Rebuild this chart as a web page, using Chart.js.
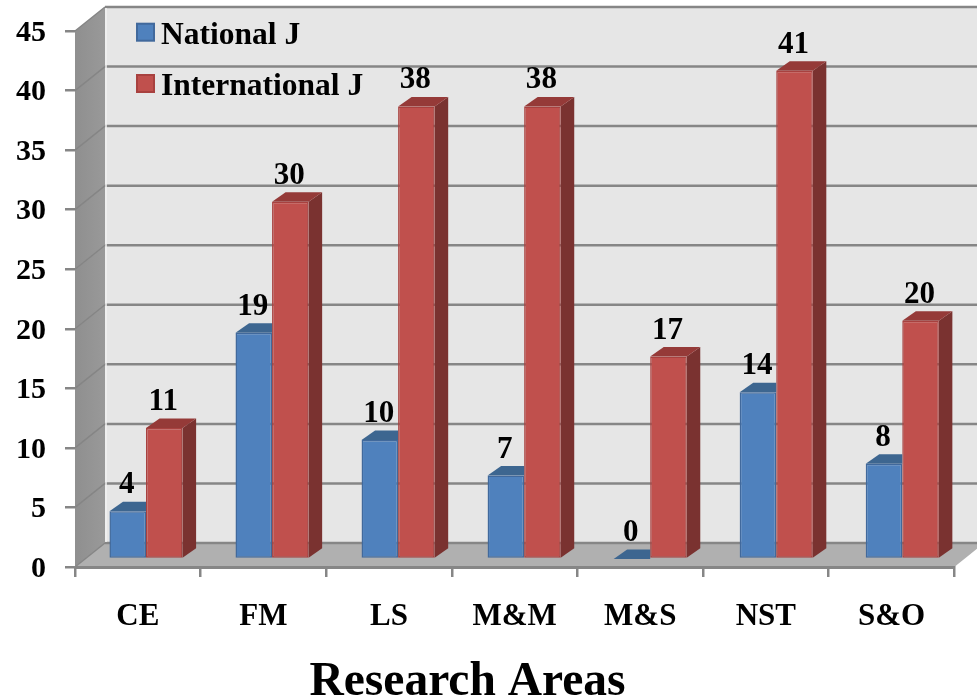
<!DOCTYPE html>
<html>
<head>
<meta charset="utf-8">
<style>
  html, body { margin: 0; padding: 0; background: #fff; }
  canvas { display: block; }
</style>
<script src="https://cdn.jsdelivr.net/npm/chart.js@4/dist/chart.umd.js"></script>
</head>
<body>
<canvas id="chart" width="977" height="698"></canvas>
<script>
const categories = ['CE', 'FM', 'LS', 'M&M', 'M&S', 'NST', 'S&O'];
const nationalJ = [4, 19, 10, 7, 0, 14, 8];
const internationalJ = [11, 30, 38, 38, 17, 41, 20];
const xAxisTitle = 'Research Areas';

const serif = '"Liberation Serif", "Times New Roman", serif';
const axisGray = '#868686';

// depth of the box behind the front plane
const wallDx = 30, wallDy = 24;
// bars stand part of the way in, and are a little wider spaced than the ticks
const barDy = 8, barScaleX = 1.0034, barDx = 7.73;
const sideDx = 13.5, sideDy = 9.5;

// blue has no side: the red bar next to it hides that part
const faces = [
  { top: '#3d6690', side: null },
  { top: '#953a38', side: '#7a3230' }
];

function poly(ctx, pts, color) {
  ctx.fillStyle = color;
  ctx.beginPath();
  pts.forEach((p, i) => i ? ctx.lineTo(p[0], p[1]) : ctx.moveTo(p[0], p[1]));
  ctx.closePath();
  ctx.fill();
}

function toBarSpace(ctx) {
  ctx.translate(barDx, -barDy);
  ctx.scale(barScaleX, 1);
}

const box3d = {
  id: 'box3d',
  beforeDraw(chart) {
    const { ctx, scales: { x, y } } = chart;
    const y0 = y.getPixelForValue(0), yTop = y.getPixelForValue(45);
    ctx.save();
    // back wall
    poly(ctx, [[x.left + wallDx, yTop - wallDy], [x.right + wallDx, yTop - wallDy],
      [x.right + wallDx, y0 - wallDy], [x.left + wallDx, y0 - wallDy]], '#e6e6e6');
    // left wall
    const g = ctx.createLinearGradient(x.left, 0, x.left + wallDx, 0);
    g.addColorStop(0, '#8f8f8f');
    g.addColorStop(1, '#999999');
    poly(ctx, [[x.left, yTop], [x.left + wallDx, yTop - wallDy],
      [x.left + wallDx, y0 - wallDy], [x.left, y0]], g);
    // floor
    poly(ctx, [[x.left, y0], [x.left + wallDx, y0 - wallDy],
      [x.right + wallDx, y0 - wallDy], [x.right, y0]], '#b0b0b0');
    // grid lines, back wall and down the left wall
    y.ticks.forEach(t => {
      const py = y.getPixelForValue(t.value);
      ctx.strokeStyle = axisGray;
      ctx.lineWidth = 2.5;
      ctx.beginPath();
      ctx.moveTo(x.left + wallDx, py - wallDy);
      ctx.lineTo(x.right + wallDx, py - wallDy);
      ctx.stroke();
      ctx.strokeStyle = '#858585';
      ctx.lineWidth = 1.5;
      ctx.beginPath();
      ctx.moveTo(x.left, py);
      ctx.lineTo(x.left + wallDx, py - wallDy);
      ctx.stroke();
    });
    // light edge where the walls meet
    ctx.strokeStyle = '#f2f2f2';
    ctx.lineWidth = 1.5;
    ctx.beginPath();
    ctx.moveTo(x.left + wallDx + 1, yTop - wallDy + 1);
    ctx.lineTo(x.left + wallDx + 1, y0 - wallDy - 1);
    ctx.stroke();
    ctx.restore();
  },
  beforeDatasetDraw(chart, args) {
    const { ctx } = chart;
    ctx.save();
    toBarSpace(ctx);
    const face = faces[args.index];
    args.meta.data.forEach(el => {
      const r = el.x + el.width / 2, l = el.x - el.width / 2;
      if (face.side) {
        poly(ctx, [[r, el.y], [r + sideDx, el.y - sideDy], [r + sideDx, el.base - sideDy], [r, el.base]], face.side);
        poly(ctx, [[l, el.y], [l + sideDx, el.y - sideDy], [r + sideDx, el.y - sideDy], [r, el.y]], face.top);
      } else {
        poly(ctx, [[l, el.y], [l + sideDx, el.y - sideDy], [r, el.y - sideDy], [r, el.y]], face.top);
      }
    });
  },
  afterDatasetDraw(chart) {
    chart.ctx.restore();
  },
  afterDatasetsDraw(chart) {
    const { ctx } = chart;
    ctx.save();
    toBarSpace(ctx);
    ctx.font = 'bold 31px ' + serif;
    ctx.fillStyle = '#000';
    ctx.textAlign = 'center';
    ctx.textBaseline = 'alphabetic';
    chart.data.datasets.forEach((ds, i) => {
      chart.getDatasetMeta(i).data.forEach((el, j) => {
        ctx.fillText(String(ds.data[j]), el.x - 1, el.y - 18);
      });
    });
    ctx.restore();

    // legend sits inside the plot
    const rows = [[23.7, 43.5], [75, 94.5]];
    ctx.save();
    ctx.font = 'bold 31.5px ' + serif;
    ctx.textAlign = 'left';
    chart.data.datasets.forEach((ds, i) => {
      ctx.fillStyle = ds.backgroundColor;
      ctx.strokeStyle = ds.borderColor;
      ctx.lineWidth = 2;
      ctx.fillRect(137, rows[i][0], 17, 17);
      ctx.strokeRect(137, rows[i][0], 17, 17);
      ctx.fillStyle = '#000';
      ctx.fillText(ds.label, 161, rows[i][1]);
    });
    // axis title is left of the plot centre in the original
    ctx.font = 'bold 47.5px ' + serif;
    ctx.textAlign = 'center';
    ctx.fillText(xAxisTitle, 467.5, 695);
    ctx.restore();
  }
};

new Chart(document.getElementById('chart'), {
  type: 'bar',
  data: {
    labels: categories,
    datasets: [
      {
        label: 'National J',
        data: nationalJ,
        backgroundColor: '#4f81bd',
        borderColor: '#41699c'
      },
      {
        label: 'International J',
        data: internationalJ,
        backgroundColor: '#c0504d',
        borderColor: '#a8413f'
      }
    ]
  },
  options: {
    responsive: false,
    animation: false,
    devicePixelRatio: 1,
    layout: {
      autoPadding: false,
      padding: { top: 31, right: 22.7, bottom: 0, left: 0 }
    },
    datasets: {
      bar: {
        barPercentage: 1,
        categoryPercentage: 0.58,
        borderWidth: 1.5,
        borderSkipped: false,
        clip: false
      }
    },
    scales: {
      x: {
        afterFit(scale) {
          scale.height = 131;
          scale.paddingLeft = 0;
          scale.paddingRight = 0;
        },
        grid: {
          drawOnChartArea: false,
          color: axisGray,
          lineWidth: 2.5,
          tickLength: 10
        },
        border: { display: true, color: axisGray, width: 3 },
        ticks: {
          color: '#000',
          padding: 21,
          maxRotation: 0,
          font: { family: serif, size: 31, weight: 'bold' }
        }
      },
      y: {
        min: 0,
        max: 45,
        afterFit(scale) {
          scale.width = 75;
          scale.paddingTop = 0;
          scale.paddingBottom = 0;
        },
        grid: {
          drawOnChartArea: false,
          color: axisGray,
          lineWidth: 2.5,
          tickLength: 10
        },
        border: { display: false },
        ticks: {
          stepSize: 5,
          color: '#000',
          padding: 19,
          labelOffset: 2,
          font: { family: serif, size: 30, weight: 'bold' }
        }
      }
    },
    plugins: {
      legend: { display: false },
      tooltip: { enabled: false }
    }
  },
  plugins: [box3d]
});
</script>
</body>
</html>
